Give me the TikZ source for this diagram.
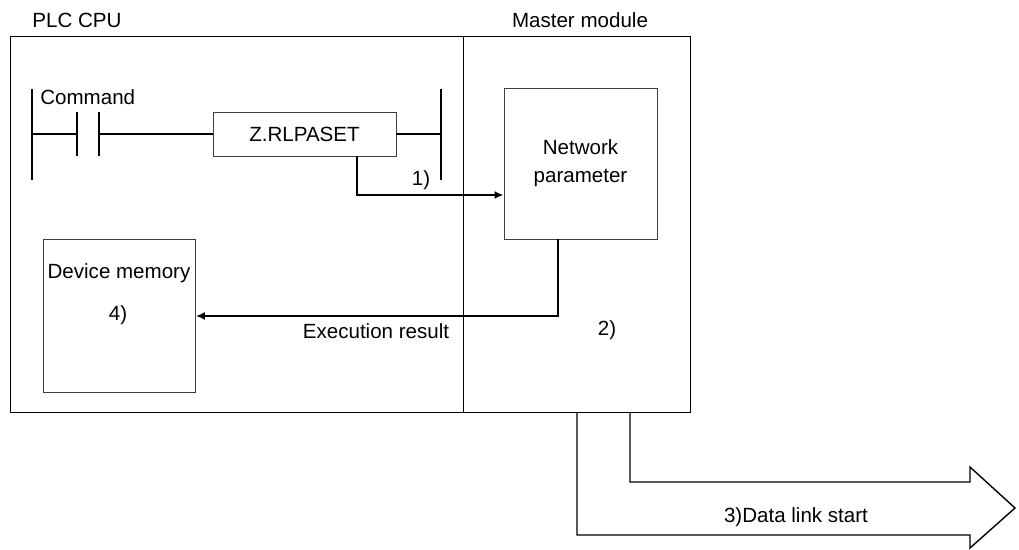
\documentclass[tikz,border=0pt]{standalone}
\usepackage{fontspec}
\setmainfont{Liberation Sans}
\usetikzlibrary{arrows.meta,positioning}

\begin{document}
\begin{tikzpicture}[x=0.02cm, y=-0.02cm,
  blk/.style={rectangle, draw=black!75, line width=0.55pt, inner sep=0pt, align=center,
    font=\fontsize{11.7}{16}\selectfont},
  frame/.style={rectangle, draw=black, line width=0.75pt, anchor=north west, minimum height=7.52cm},
  rung/.style={line width=1.1pt},
  arr/.style={-{Latex[length=1.8mm,width=1.6mm]}, line width=1.1pt},
  bigarr/.style={line width=0.8pt, line join=miter},
  lbl/.style={font=\fontsize{11.7}{16}\selectfont, inner sep=0pt, anchor=base}
]
\useasboundingbox (0,0) rectangle (1019,549);

% frames
\node[frame, minimum width=9.06cm] (plc) at (10,36) {};
\node[frame, minimum width=4.54cm] (master) at (463,36) {};
\node[lbl] (plclbl) at (77,27) {PLC CPU};
\node[lbl] (masterlbl) at (580,27) {Master module};

% ladder
\node[blk, minimum width=3.66cm, minimum height=0.88cm] (rpaset) at (304.5,134) {Z.RLPASET};
\node[lbl, anchor=base west] (cmd) at (40,104) {Command};
\coordinate (lrail) at (32,134);
\coordinate (rrail) at (441,134);
\coordinate (ca) at (77,134);
\coordinate (cb) at (99,134);
\draw[rung] (32,89) -- (32,180);
\draw[rung] (441,89) -- (441,180);
\draw[rung] (77,112) -- (77,156);
\draw[rung] (99,112) -- (99,156);
\draw[rung] (lrail) -- (ca);
\draw[rung] (cb) -- (rpaset.west);
\draw[rung] (rpaset.east) -- (rrail);

% master module side
\node[blk, minimum width=3.06cm, minimum height=3.02cm] (netpar) at (580.5,163.5) {Network\\parameter};
\node[blk, anchor=north west, minimum width=3.04cm, minimum height=3.06cm] (devmem) at (43,239) {};
\node[lbl] (devlbl) at (119,278) {Device memory};
\node[lbl] (s4) at (118,320) {4)};

\draw[arr] ([xshift=1.05cm]rpaset.south) |- ([yshift=-0.63cm]netpar.west);
\node[lbl] (s1) at (421,185) {1)};
\draw[arr] ([xshift=-0.45cm]netpar.south) |- (devmem.east);
\node[lbl] (exres) at (376,338) {Execution result};
\node[lbl] (s2) at (607,335) {2)};

% data link arrow
\draw[bigarr] (577,412) -- (577,535) -- (970,535) -- (970,548) -- (1015,508)
  -- (970,467) -- (970,482) -- (630,482) -- (630,412);
\node[lbl] (dlink) at (796,522) {3)Data link start};

\end{tikzpicture}
\end{document}
